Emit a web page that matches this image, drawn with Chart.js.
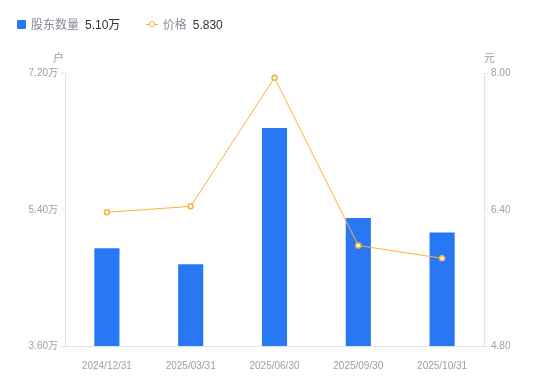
<!DOCTYPE html>
<html>
<head>
<meta charset="utf-8">
<script src="https://cdn.jsdelivr.net/npm/chart.js@4/dist/chart.umd.min.js"></script>
<style>
  html,body{margin:0;padding:0;background:#fff;}
  body{width:550px;height:381px;position:relative;overflow:hidden;font-family:"Liberation Sans","Noto Sans CJK SC",sans-serif;}
  #wrap{position:absolute;left:0;top:0;width:550px;height:381px;}
  .legend{position:absolute;top:16px;left:17px;font-size:12px;line-height:16px;color:#888a99;white-space:nowrap;}
  .legend span{display:inline-block;vertical-align:middle;}
  .sq{width:9px;height:9px;background:#2878f5;border-radius:1px;margin-right:5px;}
  .val{color:#333;margin-left:6px;}
  .ln{position:relative;width:12px;height:9px;margin-left:22px;margin-right:5px;}
  .ln:before{content:'';position:absolute;left:0;top:4px;width:12px;height:1px;background:#ffb03a;}
  .ln:after{content:'';position:absolute;left:3px;top:1px;width:4px;height:4px;border:1.5px solid #ffb03a;border-radius:50%;background:#fff;}
  .unit{position:absolute;top:49px;font-size:11px;color:#9a9aa8;font-family:"Noto Sans CJK SC",sans-serif;}
</style>
</head>
<body>
<div id="wrap"><canvas id="c" width="550" height="381"></canvas></div>
<div class="legend">
  <span class="sq"></span><span>股东数量</span><span class="val">5.10万</span>
  <span class="ln"></span><span>价格</span><span class="val">5.830</span>
</div>
<div class="unit" style="left:53px">户</div>
<div class="unit" style="left:484px">元</div>
<script>
(function(){
  // 数据
  const labels = ['2024/12/31','2025/03/31','2025/06/30','2025/09/30','2025/10/31'];
  const holders = [4.89, 4.68, 6.48, 5.29, 5.10];   // 股东数量(万户)
  const prices = [6.37, 6.44, 7.95, 5.98, 5.83];    // 价格(元)
  const leftTicks = [3.60, 5.40, 7.20];
  const rightTicks = [4.80, 6.40, 8.00];

  const tickFont = { family:'"Liberation Sans", "Noto Sans CJK SC", sans-serif', size:10 };
  const tickColor = '#9d9dab';
  const axisColor = '#e3e3e8';

  new Chart(document.getElementById('c').getContext('2d'), {
    data:{
      labels,
      datasets:[
        { type:'line', label:'价格', data:prices, yAxisID:'yR', borderColor:'#ffb03a', borderWidth:1,
          pointRadius:2.5, pointBorderWidth:1.5, pointBackgroundColor:'#fff', pointBorderColor:'#ffb03a',
          tension:0, order:0 },
        { type:'bar', label:'股东数量', data:holders, yAxisID:'yL', backgroundColor:'#2878f5',
          barPercentage:0.6, categoryPercentage:0.5, order:1 }
      ]
    },
    options:{
      responsive:false, animation:false,
      layout:{ padding:{ top:73.5, left:0, right:0, bottom:0 } },
      plugins:{ legend:{display:false}, tooltip:{enabled:false} },
      scales:{
        x:{
          grid:{ display:false },
          border:{ display:true, color:axisColor },
          ticks:{ color:tickColor, font:tickFont, padding:6, maxRotation:0, autoSkip:false },
          afterFit(s){ s.height = 35; }
        },
        yL:{
          position:'left', min:3.6, max:7.2,
          afterBuildTicks(s){ s.ticks = leftTicks.map(v=>({value:v})); },
          grid:{ drawOnChartArea:false, drawTicks:true, tickLength:4, color:axisColor },
          border:{ display:true, color:axisColor },
          ticks:{ color:tickColor, font:tickFont, padding:3, callback:v=>v.toFixed(2)+'万' },
          afterFit(s){ s.width = 65; }
        },
        yR:{
          position:'right', min:4.8, max:8.0,
          afterBuildTicks(s){ s.ticks = rightTicks.map(v=>({value:v})); },
          grid:{ drawOnChartArea:false, drawTicks:true, tickLength:4, color:axisColor },
          border:{ display:true, color:axisColor },
          ticks:{ color:tickColor, font:tickFont, padding:3, callback:v=>v.toFixed(2) },
          afterFit(s){ s.width = 66; }
        }
      }
    }
  });
})();
</script>
</body>
</html>
